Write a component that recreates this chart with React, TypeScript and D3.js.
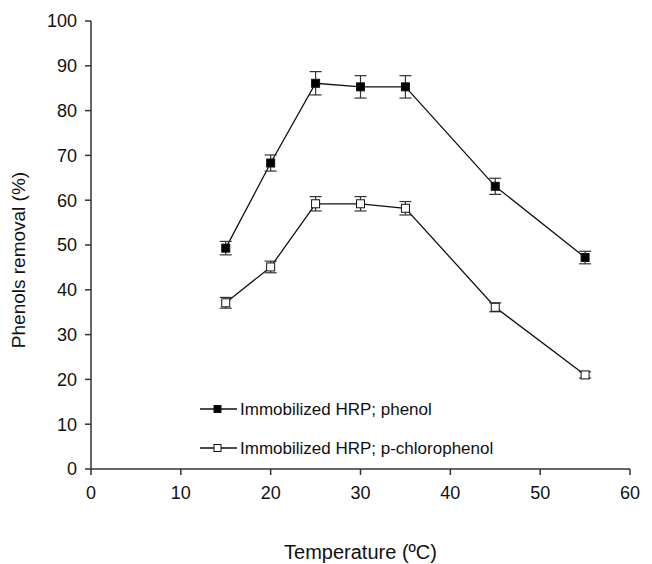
import React from "react";
import * as d3 from "d3";

const temps = [15, 20, 25, 30, 35, 45, 55];
const phenol = [49.3, 68.3, 86.1, 85.3, 85.3, 63.1, 47.2];
const phenolErr = [1.5, 1.8, 2.6, 2.5, 2.5, 1.8, 1.4];
const chloro = [37.1, 45.1, 59.2, 59.2, 58.2, 36.1, 21.0];
const chloroErr = [1.2, 1.3, 1.6, 1.6, 1.5, 1.0, 0.7];
const xTicks = [0, 10, 20, 30, 40, 50, 60];
const yTicks = [0, 10, 20, 30, 40, 50, 60, 70, 80, 90, 100];
const legendLabels = ["Immobilized HRP; phenol", "Immobilized HRP; p-chlorophenol"];

export default function App() {
  const W = 652, H = 564;
  const x = d3.scaleLinear().domain([0, 60]).range([91, 630]);
  const y = d3.scaleLinear().domain([0, 100]).range([469, 21]);
  const line = d3.line<number>().x((_, i) => x(temps[i])).y((d) => y(d));
  const font = "'Liberation Sans', Arial, sans-serif";
  const axisColor = "#333";
  const legendY = [409, 448];
  const series = [
    { vals: phenol, errs: phenolErr, fill: "#000" },
    { vals: chloro, errs: chloroErr, fill: "#fff" },
  ];
  return (
    <svg width={W} height={H} style={{ position: "absolute", left: 0, top: 0, background: "#fff" }} fontFamily={font}>
      <rect width={W} height={H} fill="#fff" />
      <line x1={x(0)} x2={x(0)} y1={y(0)} y2={y(100)} stroke={axisColor} strokeWidth={1.5} />
      <line x1={x(0)} x2={x(60)} y1={y(0)} y2={y(0)} stroke={axisColor} strokeWidth={1.5} />
      {yTicks.map((t) => (
        <g key={"y" + t}>
          <line x1={x(0) - 6} x2={x(0)} y1={y(t)} y2={y(t)} stroke={axisColor} strokeWidth={1.5} />
          <text x={x(0) - 14} y={y(t)} dy="0.36em" textAnchor="end" fontSize={18} fill="#111">{t}</text>
        </g>
      ))}
      {xTicks.map((t) => (
        <g key={"x" + t}>
          <line x1={x(t)} x2={x(t)} y1={y(0)} y2={y(0) + 6} stroke={axisColor} strokeWidth={1.5} />
          <text x={x(t)} y={y(0) + 30} textAnchor="middle" fontSize={18} fill="#111">{t}</text>
        </g>
      ))}
      <text x={x(30)} y={559} textAnchor="middle" fontSize={20} fill="#111">Temperature (ºC)</text>
      <text transform={`translate(25,${(y(0) + y(100)) / 2 + 15}) rotate(-90)`} textAnchor="middle" fontSize={19} fill="#111">Phenols removal (%)</text>
      {series.map((s, si) => (
        <g key={"s" + si}>
          <path d={line(s.vals) || ""} fill="none" stroke="#111" strokeWidth={1.3} />
          {s.vals.map((v, i) => (
            <g key={i}>
              <line x1={x(temps[i])} x2={x(temps[i])} y1={y(v + s.errs[i])} y2={y(v - s.errs[i])} stroke="#333" strokeWidth={1.2} />
              <line x1={x(temps[i]) - 6} x2={x(temps[i]) + 6} y1={y(v + s.errs[i])} y2={y(v + s.errs[i])} stroke="#333" strokeWidth={1.2} />
              <line x1={x(temps[i]) - 6} x2={x(temps[i]) + 6} y1={y(v - s.errs[i])} y2={y(v - s.errs[i])} stroke="#333" strokeWidth={1.2} />
              <rect x={x(temps[i]) - 4} y={y(v) - 4} width={8} height={8} fill={s.fill} stroke="#111" strokeWidth={1} />
            </g>
          ))}
        </g>
      ))}
      {legendLabels.map((lab, i) => {
        const ly = legendY[i];
        return (
          <g key={"l" + i}>
            <line x1={200} x2={237} y1={ly} y2={ly} stroke="#111" strokeWidth={1.3} />
            <rect x={214} y={ly - 3.5} width={7} height={7} fill={series[i].fill} stroke="#111" strokeWidth={1} />
            <text x={240} y={ly} dy="0.36em" fontSize={17} fill="#111">{lab}</text>
          </g>
        );
      })}
    </svg>
  );
}
